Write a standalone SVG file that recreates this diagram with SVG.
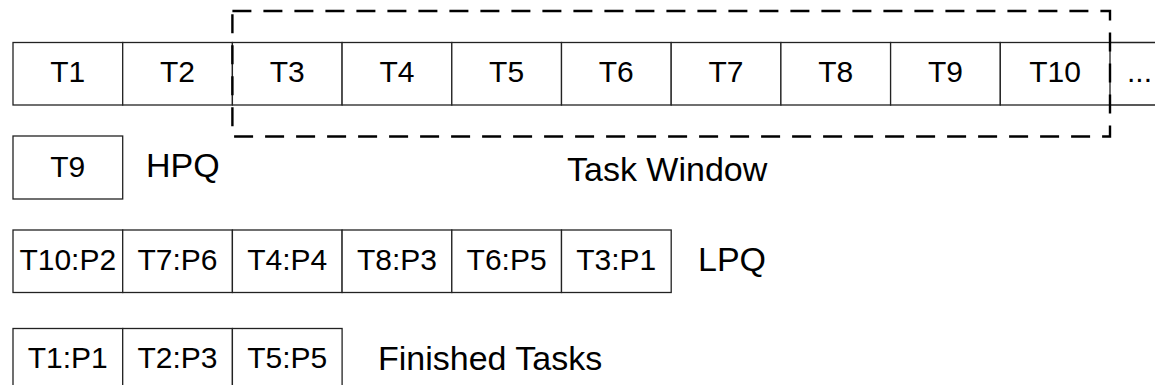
<svg xmlns="http://www.w3.org/2000/svg" width="1155" height="385" viewBox="0 0 1155 385">
  <style>
    .cell { fill: #ffffff; stroke: #222222; stroke-width: 1.3; }
    .edge { fill: none; stroke: #222222; stroke-width: 1.3; }
    .ct { font-family: "Liberation Sans", Arial, sans-serif; font-size: 30px; fill: #000000; text-anchor: middle; }
    .lbl { font-family: "Liberation Sans", Arial, sans-serif; font-size: 34px; fill: #000000; }
    .window { fill: none; stroke: #000000; stroke-width: 2.4; stroke-dasharray: 19 12; }
  </style>
  <rect width="1155" height="385" fill="#ffffff"/>

  <!-- task stream: T1 .. T10 followed by an open-ended cell -->
  <g id="task-stream">
    <g id="t1"><rect class="cell" x="13" y="42.5" width="109.7" height="62.5"/><text class="ct" x="67.8" y="82">T1</text></g>
    <g id="t2"><rect class="cell" x="122.7" y="42.5" width="109.7" height="62.5"/><text class="ct" x="177.5" y="82">T2</text></g>
    <g id="t3"><rect class="cell" x="232.4" y="42.5" width="109.7" height="62.5"/><text class="ct" x="287.2" y="82">T3</text></g>
    <g id="t4"><rect class="cell" x="342.1" y="42.5" width="109.7" height="62.5"/><text class="ct" x="396.9" y="82">T4</text></g>
    <g id="t5"><rect class="cell" x="451.8" y="42.5" width="109.7" height="62.5"/><text class="ct" x="506.6" y="82">T5</text></g>
    <g id="t6"><rect class="cell" x="561.5" y="42.5" width="109.7" height="62.5"/><text class="ct" x="616.3" y="82">T6</text></g>
    <g id="t7"><rect class="cell" x="671.2" y="42.5" width="109.7" height="62.5"/><text class="ct" x="726" y="82">T7</text></g>
    <g id="t8"><rect class="cell" x="780.9" y="42.5" width="109.7" height="62.5"/><text class="ct" x="835.7" y="82">T8</text></g>
    <g id="t9"><rect class="cell" x="890.6" y="42.5" width="109.7" height="62.5"/><text class="ct" x="945.4" y="82">T9</text></g>
    <g id="t10"><rect class="cell" x="1000.3" y="42.5" width="109.7" height="62.5"/><text class="ct" x="1055.1" y="82">T10</text></g>
    <g id="t-more">
      <path class="edge" d="M1110 42.5 H1160 M1110 105 H1160"/>
      <text class="lbl" x="1127" y="82" style="font-size:30px">...</text>
    </g>
  </g>

  <!-- sliding task window over T3 .. T10 -->
  <g id="task-window">
    <rect class="window" x="232.4" y="11" width="877.6" height="125.5"/>
    <text class="lbl" x="567" y="181">Task Window</text>
  </g>

  <!-- high priority queue -->
  <g id="hpq">
    <rect class="cell" x="13" y="136" width="109.7" height="63"/>
    <text class="ct" x="67.8" y="176.5">T9</text>
    <text class="lbl" x="146" y="177">HPQ</text>
  </g>

  <!-- low priority queue -->
  <g id="lpq">
    <g id="lpq-1"><rect class="cell" x="13" y="230" width="109.7" height="62.5"/><text class="ct" x="67.8" y="270">T10:P2</text></g>
    <g id="lpq-2"><rect class="cell" x="122.7" y="230" width="109.7" height="62.5"/><text class="ct" x="177.5" y="270">T7:P6</text></g>
    <g id="lpq-3"><rect class="cell" x="232.4" y="230" width="109.7" height="62.5"/><text class="ct" x="287.2" y="270">T4:P4</text></g>
    <g id="lpq-4"><rect class="cell" x="342.1" y="230" width="109.7" height="62.5"/><text class="ct" x="396.9" y="270">T8:P3</text></g>
    <g id="lpq-5"><rect class="cell" x="451.8" y="230" width="109.7" height="62.5"/><text class="ct" x="506.6" y="270">T6:P5</text></g>
    <g id="lpq-6"><rect class="cell" x="561.5" y="230" width="109.7" height="62.5"/><text class="ct" x="616.3" y="270">T3:P1</text></g>
    <text class="lbl" x="698" y="271">LPQ</text>
  </g>

  <!-- finished tasks -->
  <g id="finished">
    <g id="fin-1"><rect class="cell" x="13" y="328.5" width="109.7" height="63"/><text class="ct" x="67.8" y="367.5">T1:P1</text></g>
    <g id="fin-2"><rect class="cell" x="122.7" y="328.5" width="109.7" height="63"/><text class="ct" x="177.5" y="367.5">T2:P3</text></g>
    <g id="fin-3"><rect class="cell" x="232.4" y="328.5" width="109.7" height="63"/><text class="ct" x="287.2" y="367.5">T5:P5</text></g>
    <text class="lbl" x="378" y="370">Finished Tasks</text>
  </g>

  <!-- no connectors in this figure -->
  <g id="connectors"/>
</svg>
